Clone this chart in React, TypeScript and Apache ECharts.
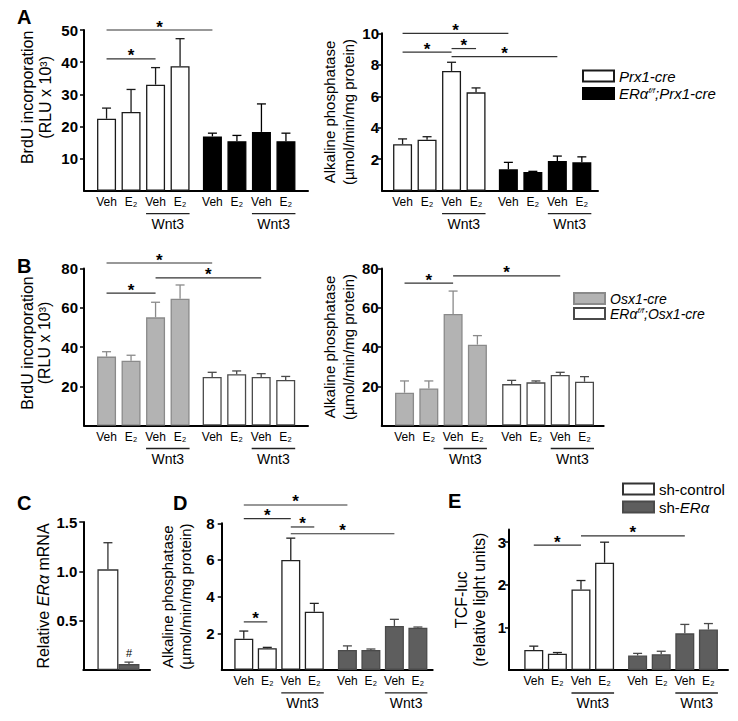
import React, { useEffect, useRef } from "react";
import * as echarts from "echarts";

const FONT = '"Liberation Sans", Arial, Helvetica, sans-serif';

// ---- tick / category labels ----
const BAR_LABELS = ["Veh", "E₂", "Veh", "E₂", "Veh", "E₂", "Veh", "E₂"];
const WNT3_LABEL = "Wnt3";
const A1_TICKS = [10, 20, 30, 40, 50];
const A2_TICKS = [2, 4, 6, 8, 10];
const B_TICKS = [20, 40, 60, 80];
const C_TICKS = [0.5, 1.0, 1.5];
const D_TICKS = [2, 4, 6, 8];
const E_TICKS = [1, 2, 3];

// ---- Panel A left: BrdU incorporation ----
const A1_PRX = [22.4, 24.5, 33.0, 38.7];
const A1_PRX_SE = [3.3, 7.0, 5.3, 8.6];
const A1_KO = [16.9, 15.4, 18.3, 15.4];
const A1_KO_SE = [1.0, 1.8, 8.7, 2.5];
const A1_SIG = [[0, 4, 50], [0, 2, 41]];

// ---- Panel A right: Alkaline phosphatase ----
const A2_PRX = [2.95, 3.24, 7.61, 6.25];
const A2_PRX_SE = [0.34, 0.19, 0.55, 0.28];
const A2_KO = [1.36, 1.19, 1.89, 1.8];
const A2_KO_SE = [0.44, 0.04, 0.31, 0.35];
const A2_SIG = [[0, 4, 10.0], [0, 2, 8.8], [2, 3, 9.03], [2, 6, 8.52]];

// ---- Panel B left: BrdU incorporation ----
const B1_OSX = [35.1, 33.0, 55.1, 64.6];
const B1_OSX_SE = [2.5, 2.8, 7.7, 7.0];
const B1_KO = [24.7, 26.1, 24.7, 23.2];
const B1_KO_SE = [2.4, 1.7, 1.7, 1.8];
const B1_SIG = [[0, 4, 82.8], [2, 6, 75.2], [0, 2, 67.5]];

// ---- Panel B right: Alkaline phosphatase ----
const B2_OSX = [16.7, 18.9, 56.8, 41.2];
const B2_OSX_SE = [6.0, 3.8, 11.7, 4.6];
const B2_KO = [21.1, 22.0, 25.7, 22.3];
const B2_KO_SE = [1.9, 0.7, 1.4, 2.6];
const B2_SIG = [[0, 2, 72.5], [2, 6, 76.2]];

// ---- Panel C: relative ERα mRNA ----
const C_CTRL = [1.02];
const C_CTRL_SE = [0.27];
const C_SH = [0.06];
const C_SH_SE = [0.02];
const C_MARKS = [[1, 0.17, "#"]];

// ---- Panel D: Alkaline phosphatase ----
const D_CTRL = [1.7, 1.18, 6.0, 3.18];
const D_CTRL_SE = [0.42, 0.05, 1.19, 0.45];
const D_SH = [1.09, 1.09, 2.4, 2.3];
const D_SH_SE = [0.22, 0.05, 0.36, 0.04];
const D_SIG = [[0, 4, 9.0], [0, 2, 8.25], [2, 3, 7.8], [2, 6, 7.43], [0, 1, 2.62]];

// ---- Panel E: TCF-luc ----
const E_CTRL = [0.47, 0.38, 1.89, 2.52];
const E_CTRL_SE = [0.09, 0.03, 0.21, 0.48];
const E_SH = [0.34, 0.37, 0.86, 0.95];
const E_SH_SE = [0.05, 0.07, 0.21, 0.14];
const E_SIG = [[0, 2, 2.93], [2, 6, 3.15]];

// ---- legend names ----
const PRX_NAMES = ["Prx1-cre", "ERαf/f;Prx1-cre"];
const OSX_NAMES = ["Osx1-cre", "ERαf/f;Osx1-cre"];
const SH_NAMES = ["sh-control", "sh-ERα"];

const WHITE = "#ffffff";
const BLACK = "#000000";
const GRAY = "#b3b3b3";
const DARK = "#5e5e5e";

type Group = { name: string; values: number[]; se: number[]; fill: string; stroke: string };
type Panel = {
  grid: { left: number; top: number; width: number; height: number };
  xMin: number; xMax: number; yMax: number; gap: number; barWidth: number;
  yTicks: number[]; dec: number; labelMargin: number;
  name: string; nameGap: number; namePad: number; nameSize: number; nameLH: number;
  groups: Group[]; sig: number[][]; wnt3: boolean; xLabels: boolean; marks?: any[];
  rich?: boolean;
};

const PANELS: Panel[] = [
  {
    grid: { left: 84, top: 30, width: 224, height: 160.7 }, xMin: -0.92, xMax: 8.22, yMax: 50, gap: 0.32, barWidth: 19,
    yTicks: A1_TICKS, dec: 0, labelMargin: 6, name: "BrdU incorporation\n(RLU x 10³)", nameGap: 30, namePad: 26, nameSize: 16, nameLH: 18,
    groups: [
      { name: PRX_NAMES[0], values: A1_PRX, se: A1_PRX_SE, fill: WHITE, stroke: "#1a1a1a" },
      { name: PRX_NAMES[1], values: A1_KO, se: A1_KO_SE, fill: BLACK, stroke: BLACK },
    ], sig: A1_SIG, wnt3: true, xLabels: true,
  },
  {
    grid: { left: 382, top: 33.3, width: 216, height: 157.4 }, xMin: -0.84, xMax: 7.98, yMax: 10, gap: 0.32, barWidth: 19,
    yTicks: A2_TICKS, dec: 0, labelMargin: 3, name: "Alkaline phosphatase\n(µmol/min/mg protein)", nameGap: 24, namePad: 0, nameSize: 15, nameLH: 19,
    groups: [
      { name: PRX_NAMES[0], values: A2_PRX, se: A2_PRX_SE, fill: WHITE, stroke: "#1a1a1a" },
      { name: PRX_NAMES[1], values: A2_KO, se: A2_KO_SE, fill: BLACK, stroke: BLACK },
    ], sig: A2_SIG, wnt3: true, xLabels: true,
  },
  {
    grid: { left: 84, top: 268.5, width: 224, height: 157 }, xMin: -0.92, xMax: 8.22, yMax: 80, gap: 0.31, barWidth: 19,
    yTicks: B_TICKS, dec: 0, labelMargin: 6, name: "BrdU incorporation\n(RLU x 10³)", nameGap: 31, namePad: 8, nameSize: 16, nameLH: 17,
    groups: [
      { name: OSX_NAMES[0], values: B1_OSX, se: B1_OSX_SE, fill: GRAY, stroke: "#8a8a8a" },
      { name: OSX_NAMES[1], values: B1_KO, se: B1_KO_SE, fill: WHITE, stroke: "#4a4a4a" },
    ], sig: B1_SIG, wnt3: true, xLabels: true,
  },
  {
    grid: { left: 381.7, top: 268.5, width: 222, height: 157 }, xMin: -0.94, xMax: 8.2, yMax: 80, gap: 0.41, barWidth: 19,
    yTicks: B_TICKS, dec: 0, labelMargin: 3, name: "Alkaline phosphatase\n(µmol/min/mg protein)", nameGap: 24, namePad: 0, nameSize: 15, nameLH: 19,
    groups: [
      { name: OSX_NAMES[0], values: B2_OSX, se: B2_OSX_SE, fill: GRAY, stroke: "#8a8a8a" },
      { name: OSX_NAMES[1], values: B2_KO, se: B2_KO_SE, fill: WHITE, stroke: "#4a4a4a" },
    ], sig: B2_SIG, wnt3: true, xLabels: true,
  },
  {
    grid: { left: 83.3, top: 522, width: 66.7, height: 148 }, xMin: -1.17, xMax: 2.0, yMax: 1.5, gap: 0, barWidth: 21,
    yTicks: C_TICKS, dec: 1, labelMargin: 6, name: "{n|Relative }{i|ERα}{n| mRNA}", nameGap: 31, namePad: 0, nameSize: 16, nameLH: 18,
    groups: [
      { name: SH_NAMES[0], values: C_CTRL, se: C_CTRL_SE, fill: WHITE, stroke: "#333333" },
      { name: SH_NAMES[1], values: C_SH, se: C_SH_SE, fill: DARK, stroke: "#4a4a4a" },
    ], sig: [], wnt3: false, xLabels: false, marks: C_MARKS, rich: true,
  },
  {
    grid: { left: 221.7, top: 523.3, width: 211, height: 146.6 }, xMin: -0.94, xMax: 8.04, yMax: 8, gap: 0.41, barWidth: 19,
    yTicks: D_TICKS, dec: 0, labelMargin: 7, name: "Alkaline phosphatase\n(µmol/min/mg protein)", nameGap: 27, namePad: 0, nameSize: 15, nameLH: 18,
    groups: [
      { name: SH_NAMES[0], values: D_CTRL, se: D_CTRL_SE, fill: WHITE, stroke: "#222222" },
      { name: SH_NAMES[1], values: D_SH, se: D_SH_SE, fill: DARK, stroke: "#4a4a4a" },
    ], sig: D_SIG, wnt3: true, xLabels: true,
  },
  {
    grid: { left: 509, top: 529.4, width: 219, height: 140.6 }, xMin: -1.05, xMax: 8.23, yMax: 3.3, gap: 0.4, barWidth: 19,
    yTicks: E_TICKS, dec: 0, labelMargin: 3, name: "TCF-luc\n(relative light units)", nameGap: 21, namePad: 0, nameSize: 16, nameLH: 18,
    groups: [
      { name: SH_NAMES[0], values: E_CTRL, se: E_CTRL_SE, fill: WHITE, stroke: "#222222" },
      { name: SH_NAMES[1], values: E_SH, se: E_SH_SE, fill: DARK, stroke: "#4a4a4a" },
    ], sig: E_SIG, wnt3: true, xLabels: true,
  },
];

const LETTERS = [
  { text: "A", left: 17, top: 7 },
  { text: "B", left: 17, top: 256 },
  { text: "C", left: 17, top: 493 },
  { text: "D", left: 173, top: 493 },
  { text: "E", left: 448, top: 491 },
];

function groupPositions(p: Panel): number[][] {
  const out: number[][] = [];
  let off = 0;
  p.groups.forEach((g) => {
    out.push(g.values.map((_, j) => off + j));
    off += g.values.length + p.gap;
  });
  return out;
}

function legendFormatter(name: string) {
  if (name.indexOf("f/f") >= 0) {
    const [a, b] = name.split("f/f");
    return `{i|${a}}{s|f/f}{i|${b}}`;
  }
  if (name.indexOf("ERα") >= 0) {
    const [a] = name.split("ERα");
    return `{n|${a}}{e|ERα}`;
  }
  return name.startsWith("sh") ? `{n|${name}}` : `{i|${name}}`;
}

function legendRich(size: number) {
  return {
    i: { fontSize: size, fontStyle: "italic", fontFamily: FONT, color: "#000", lineHeight: size },
    s: { fontSize: 8, fontStyle: "italic", fontFamily: FONT, color: "#000", verticalAlign: "top", lineHeight: size },
    n: { fontSize: size, fontFamily: FONT, color: "#000", lineHeight: size },
    e: { fontSize: size, fontStyle: "italic", fontFamily: FONT, color: "#000", lineHeight: size },
  };
}

function buildOption() {
  const grid: any[] = [];
  const xAxis: any[] = [];
  const yAxis: any[] = [];
  const series: any[] = [];

  PANELS.forEach((p, pi) => {
    const pos = groupPositions(p);
    const flat = pos.flat();
    grid.push({ ...p.grid, containLabel: false });
    xAxis.push({
      type: "value", gridIndex: pi, min: p.xMin, max: p.xMax,
      axisLine: { show: true, onZero: false, lineStyle: { color: "#000", width: 2 } },
      axisTick: { show: false }, splitLine: { show: false },
      axisLabel: p.xLabels
        ? {
            show: true, customValues: flat, margin: 5, fontSize: 12, color: "#000", fontFamily: FONT,
            formatter: (v: number) => {
              const i = flat.findIndex((f) => Math.abs(f - v) < 1e-6);
              return i >= 0 ? BAR_LABELS[i] : "";
            },
          }
        : { show: false },
    });
    const nameStyle: any = {
      fontSize: p.nameSize, lineHeight: p.nameLH, color: "#000", fontFamily: FONT,
      padding: [0, 0, 0, p.namePad],
    };
    if (p.rich) {
      nameStyle.rich = {
        n: { fontSize: p.nameSize, fontFamily: FONT, color: "#000", lineHeight: p.nameLH },
        i: { fontSize: p.nameSize, fontFamily: FONT, fontStyle: "italic", color: "#000", lineHeight: p.nameLH },
      };
    }
    yAxis.push({
      type: "value", gridIndex: pi, min: 0, max: p.yMax,
      axisLine: { show: true, onZero: false, lineStyle: { color: "#000", width: 2 } },
      axisTick: { show: true, length: 4, customValues: p.yTicks, lineStyle: { color: "#000", width: 1.5 } },
      axisLabel: {
        customValues: p.yTicks, margin: p.labelMargin, fontSize: 15, fontWeight: "bold", color: "#000", fontFamily: FONT,
        formatter: (v: number) => (p.dec ? v.toFixed(p.dec) : String(v)),
      },
      splitLine: { show: false },
      name: p.name, nameLocation: "middle", nameGap: p.nameGap, nameRotate: 90, nameTextStyle: nameStyle,
    });

    p.groups.forEach((g, gi) => {
      series.push({
        type: "bar", name: g.name, xAxisIndex: pi, yAxisIndex: pi, barWidth: p.barWidth, barGap: "-100%",
        data: pos[gi].map((x, j) => [x, g.values[j]]),
        itemStyle: { color: g.fill, borderColor: g.stroke, borderWidth: 1.3 },
        emphasis: { disabled: true }, silent: true,
      });
      series.push({
        type: "custom", xAxisIndex: pi, yAxisIndex: pi, clip: false, silent: true,
        encode: { x: 0, y: [1, 2] },
        data: pos[gi].map((x, j) => [x, g.values[j], g.values[j] + g.se[j]]),
        renderItem: (_params: any, api: any) => {
          const x = api.value(0);
          const p1 = api.coord([x, api.value(1)]);
          const p2 = api.coord([x, api.value(2)]);
          return {
            type: "group",
            children: [
              { type: "line", shape: { x1: p1[0], y1: p1[1], x2: p2[0], y2: p2[1] }, style: { stroke: g.stroke, lineWidth: 1.3 } },
              { type: "line", shape: { x1: p2[0] - 4.5, y1: p2[1], x2: p2[0] + 4.5, y2: p2[1] }, style: { stroke: g.stroke, lineWidth: 1.3 } },
            ],
          };
        },
      });
    });

    if (p.sig.length) {
      series.push({
        type: "custom", xAxisIndex: pi, yAxisIndex: pi, clip: false, silent: true,
        encode: { x: [0, 1], y: 2 },
        data: p.sig.map((s) => [flat[s[0]], flat[s[1]], s[2]]),
        renderItem: (_params: any, api: any) => {
          const a = api.coord([api.value(0), api.value(2)]);
          const b = api.coord([api.value(1), api.value(2)]);
          return {
            type: "group",
            children: [
              { type: "line", shape: { x1: a[0], y1: a[1], x2: b[0], y2: a[1] }, style: { stroke: "#333", lineWidth: 1.2 } },
              {
                type: "text", x: (a[0] + b[0]) / 2, y: a[1] - 3,
                style: { text: "*", fill: "#000", fontSize: 17, fontWeight: "bold", fontFamily: FONT, align: "center", verticalAlign: "middle", textAlign: "center", textVerticalAlign: "middle" },
              },
            ],
          };
        },
      });
    }

    if (p.marks && p.marks.length) {
      series.push({
        type: "custom", xAxisIndex: pi, yAxisIndex: pi, clip: false, silent: true,
        encode: { x: 0, y: 1 },
        data: p.marks.map((m) => [flat[m[0]], m[1], m[2]]),
        renderItem: (params: any, api: any) => {
          const c = api.coord([api.value(0), api.value(1)]);
          const m = p.marks![params.dataIndex];
          return {
            type: "text", x: c[0], y: c[1],
            style: { text: m[2], fill: "#000", fontSize: 11, fontFamily: FONT, align: "center", verticalAlign: "middle", textAlign: "center", textVerticalAlign: "middle" },
          };
        },
      });
    }

    if (p.wnt3) {
      const half = p.barWidth / 2;
      series.push({
        type: "custom", xAxisIndex: pi, yAxisIndex: pi, clip: false, silent: true,
        encode: { x: [0, 1], y: 2 },
        data: pos.map((gp) => [gp[2], gp[3], 0]),
        renderItem: (_params: any, api: any) => {
          const a = api.coord([api.value(0), 0]);
          const b = api.coord([api.value(1), 0]);
          return {
            type: "group",
            children: [
              { type: "line", shape: { x1: a[0] - half, y1: a[1] + 23, x2: b[0] + half, y2: a[1] + 23 }, style: { stroke: "#222", lineWidth: 1.3 } },
              {
                type: "text", x: (a[0] + b[0]) / 2, y: a[1] + 33,
                style: { text: WNT3_LABEL, fill: "#000", fontSize: 14, fontFamily: FONT, align: "center", verticalAlign: "middle", textAlign: "center", textVerticalAlign: "middle" },
              },
            ],
          };
        },
      });
    }
  });

  const legendBase = {
    orient: "vertical", itemWidth: 31, itemHeight: 11, icon: "rect", selectedMode: false, padding: 0,
    formatter: legendFormatter,
  };

  return {
    animation: false,
    textStyle: { fontFamily: FONT },
    title: LETTERS.map((l) => ({
      text: l.text, left: l.left, top: l.top, padding: 0,
      textStyle: { fontSize: 20, fontWeight: "bold", fontFamily: FONT, color: "#000" },
    })),
    legend: [
      { ...legendBase, data: PRX_NAMES, left: 582, top: 68.5, itemGap: 2.5,
        textStyle: { fontSize: 15, fontFamily: FONT, color: "#000", rich: legendRich(15) } },
      { ...legendBase, data: OSX_NAMES, left: 573, top: 291.5, itemGap: 1,
        textStyle: { fontSize: 14, fontFamily: FONT, color: "#000", rich: legendRich(14) } },
      { ...legendBase, data: SH_NAMES, left: 622, top: 481.5, itemGap: 3,
        textStyle: { fontSize: 15, fontFamily: FONT, color: "#000", rich: legendRich(15) } },
    ],
    grid, xAxis, yAxis, series,
  };
}

export default function App() {
  const ref = useRef<HTMLDivElement>(null);
  useEffect(() => {
    if (!ref.current) return;
    const chart = echarts.init(ref.current, undefined, { renderer: "svg" });
    chart.setOption(buildOption() as any);
    return () => chart.dispose();
  }, []);
  return (
    <div
      ref={ref}
      style={{ position: "fixed", left: 0, top: 0, width: 738, height: 721, background: "#fff" }}
    />
  );
}
